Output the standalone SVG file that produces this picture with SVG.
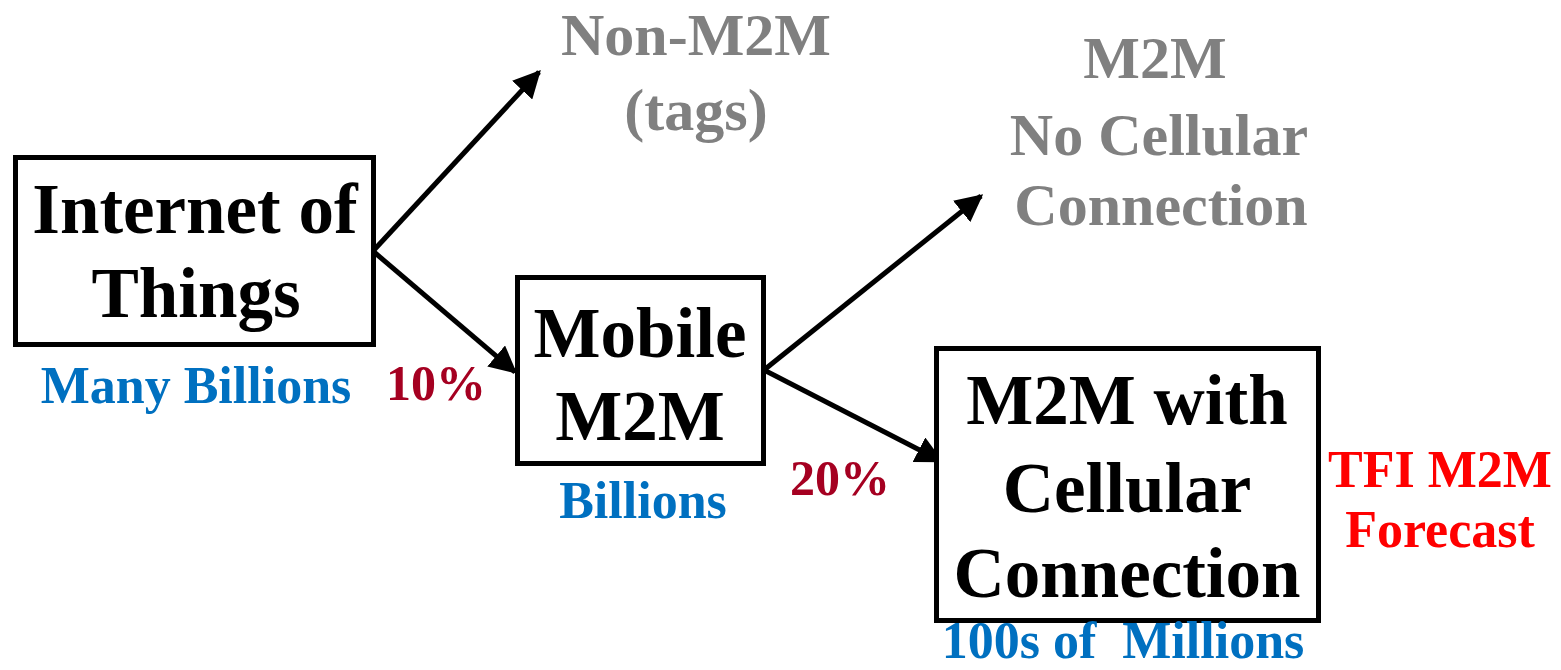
<svg xmlns="http://www.w3.org/2000/svg" width="1561" height="670" viewBox="0 0 1561 670">
<style>
text{font-family:"Liberation Serif","Times New Roman",serif;font-weight:bold;text-anchor:middle}
.box{fill:#fff;stroke:#000;stroke-width:5}
.big{font-size:71px;fill:#000}
.gray{font-size:60px;fill:#808080}
.blue{font-size:52px;fill:#0070C0}
.pct{font-size:50px;fill:#A50021}
.red{font-size:52px;fill:#FF0000}
.conn{stroke:#000;stroke-width:5;fill:none;marker-end:url(#ah)}
</style>
<defs>
<marker id="ah" viewBox="0 0 10 10" refX="9" refY="5" markerWidth="5.5" markerHeight="5.5" orient="auto" markerUnits="strokeWidth">
<path d="M0,0 L10,5 L0,10 z" fill="#000"/>
</marker>
</defs>
<g id="connectors">
<line class="conn" x1="374" y1="250" x2="539" y2="72"/>
<line class="conn" x1="374" y1="252" x2="515" y2="372"/>
<line class="conn" x1="764" y1="370" x2="981" y2="196"/>
<line class="conn" x1="764" y1="370" x2="941" y2="461"/>
</g>
<g id="iot">
<rect class="box" x="15.5" y="157.5" width="358" height="187"/>
<text class="big" x="195" y="233">Internet of</text>
<text class="big" x="196" y="317">Things</text>
<text class="blue" x="196" y="403">Many Billions</text>
</g>
<g id="pct10"><text class="pct" x="436" y="400">10%</text></g>
<g id="nonm2m">
<text class="gray" x="696" y="55">Non-M2M</text>
<text class="gray" x="696" y="130">(tags)</text>
</g>
<g id="mobile">
<rect class="box" x="517.5" y="277.5" width="246" height="186"/>
<text class="big" x="640" y="357">Mobile</text>
<text class="big" x="640" y="440">M2M</text>
<text class="blue" x="643" y="518">Billions</text>
</g>
<g id="pct20"><text class="pct" x="840" y="495">20%</text></g>
<g id="nocell">
<text class="gray" x="1155" y="78">M2M</text>
<text class="gray" x="1159" y="155">No Cellular</text>
<text class="gray" x="1161" y="225">Connection</text>
</g>
<g id="cell">
<rect class="box" x="936.5" y="348.5" width="382" height="272"/>
<text class="big" x="1127" y="424">M2M with</text>
<text class="big" x="1127" y="512">Cellular</text>
<text class="big" x="1127" y="597">Connection</text>
<text class="blue" x="1123" y="658" xml:space="preserve">100s of  Millions</text>
</g>
<g id="tfi">
<text class="red" x="1440" y="487">TFI M2M</text>
<text class="red" x="1440" y="547">Forecast</text>
</g>
</svg>
